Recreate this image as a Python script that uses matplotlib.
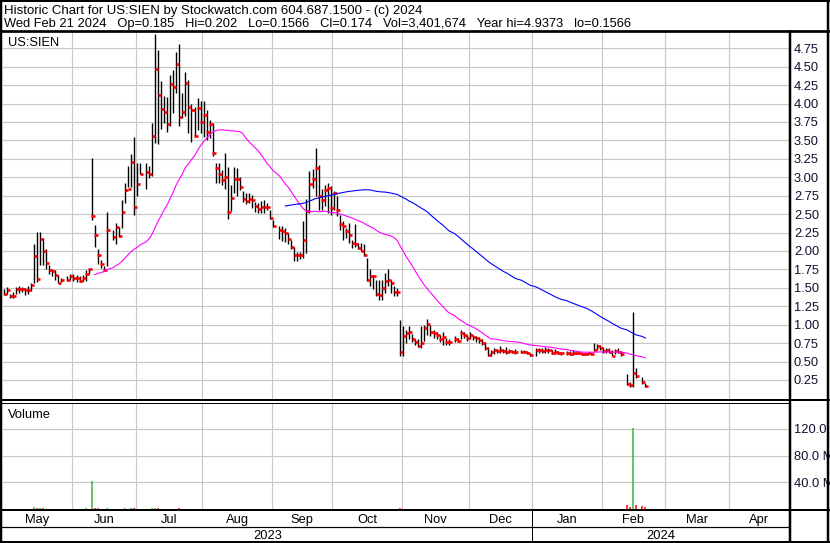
import numpy as np
import pandas as pd
import matplotlib
matplotlib.use("Agg")
import matplotlib.pyplot as plt
from matplotlib.lines import Line2D

plt.rcParams['font.family'] = ['Liberation Sans', 'DejaVu Sans']

W, H = 830, 543

# x axis = weekday slots, May 1 2023 .. end of Apr 2024
month_names = ["May", "Jun", "Jul", "Aug", "Sep", "Oct", "Nov", "Dec", "Jan", "Feb", "Mar", "Apr"]
month_start = [0, 23, 44, 66, 89, 109, 132, 154, 175, 198, 219, 240]
x_end = 259.9
year_names = ["2023", "2024"]
year_start = [0, 175]

# one value per weekday May 1 2023 .. Feb 21 2024, None = no trade
high_may = [1.49, 1.51, 1.42, 1.45, 1.51, 1.53, 1.51, 1.50, 1.53, 1.56, 2.10, 2.26, 2.26, 2.17, 2.03, 1.81, 1.76, 1.74, 1.67, 1.63, None, 1.66, 1.69]
low_may = [1.40, 1.42, 1.36, 1.36, 1.42, 1.43, 1.44, 1.40, 1.42, 1.46, 1.56, 1.58, 1.81, 1.81, 1.76, 1.69, 1.66, 1.60, 1.56, 1.58, None, 1.59, 1.60]
close_may = [1.42, 1.47, 1.39, 1.39, 1.48, 1.48, 1.48, 1.47, 1.47, 1.54, 1.93, 1.62, 2.16, 2.00, 1.84, 1.74, 1.73, 1.67, 1.57, 1.60, None, 1.60, 1.66]

high_jun = [1.69, 1.68, 1.66, 1.68, 1.74, 1.76, 3.26, 2.35, 2.03, 1.88, 1.80, 2.53, None, 2.29, 2.38, 2.33, 2.69, 2.92, 3.15, 3.32, 3.55, 3.19]
low_jun = [1.59, 1.58, 1.58, 1.59, 1.59, 1.69, 2.42, 2.06, 1.83, 1.77, 1.73, 1.79, None, 2.15, 2.10, 2.19, 2.31, 2.65, 2.87, 2.87, 2.49, 2.75]
close_jun = [1.64, 1.63, 1.59, 1.63, 1.69, 1.75, 2.48, 2.21, 1.94, 1.82, 1.74, 2.28, None, 2.19, 2.32, 2.20, 2.53, 2.83, 2.84, 3.21, 2.60, 2.91]

high_jul = [3.20, None, 3.19, 3.15, 3.74, 4.94, 4.72, 4.30, 4.10, 4.09, 4.39, 4.46, 4.70, 4.81, 4.14, 4.43, 4.32, 3.99, 3.96, 4.07, 4.03]
low_jul = [3.04, None, 2.84, 2.99, 3.02, 3.46, 3.45, 3.65, 3.74, 3.62, 3.69, 3.87, 4.14, 3.69, 3.81, 3.83, 3.60, 3.48, 3.56, 3.64, 3.60]
close_jul = [3.04, None, 3.07, 3.05, 3.56, 4.47, 4.11, 3.93, 3.88, 3.72, 4.27, 4.23, 4.54, 3.82, 3.89, 4.28, 3.96, 3.91, 3.56, 3.94, 3.75]

high_aug = [4.04, 3.91, 3.78, 3.73, 3.20, 3.20, 3.10, 3.33, 3.14, 2.90, 3.14, 3.12, 3.01, 2.81, 2.78, 2.78, 2.76, 2.67, 2.65, 2.68, 2.69, 2.65, 2.56]
low_aug = [3.55, 3.51, 3.53, 3.29, 2.92, 2.92, 2.90, 2.84, 2.43, 2.54, 2.78, 2.74, 2.83, 2.67, 2.64, 2.65, 2.58, 2.53, 2.51, 2.52, 2.51, 2.56, 2.44]
close_aug = [3.85, 3.62, 3.72, 3.33, 3.13, 3.04, 2.96, 3.01, 2.53, 2.72, 2.98, 2.98, 2.87, 2.70, 2.68, 2.70, 2.69, 2.61, 2.57, 2.59, 2.60, 2.60, 2.45]

high_sep = [2.42, None, 2.34, 2.34, 2.31, 2.24, 2.15, 2.05, 1.99, 1.99, 2.40, 2.70, 3.08, 3.11, 3.40, 3.17, 2.84, 2.90, 2.92, 2.88, 2.81]
low_sep = [2.33, None, 2.16, 2.13, 2.12, 2.09, 2.02, 1.87, 1.87, 1.89, 1.90, 1.97, 2.52, 2.86, 2.74, 2.56, 2.56, 2.61, 2.52, 2.49, 2.56]
close_sep = [2.34, None, 2.29, 2.27, 2.25, 2.16, 2.06, 1.94, 1.94, 1.95, 2.15, 2.54, 2.91, 2.98, 3.12, 2.74, 2.69, 2.83, 2.85, 2.58, 2.78]

high_oct = [2.74, 2.49, 2.40, 2.31, 2.38, 2.15, 2.37, 2.11, 2.11, 2.09, 1.91, 1.75, 1.68, 1.61, 1.61, 1.61, 1.70, 1.75, 1.61, 1.52, 1.50, 1.07]
low_oct = [2.47, 2.29, 2.15, 2.18, 2.11, 2.04, 2.06, 2.02, 2.00, 1.93, 1.59, 1.52, 1.48, 1.39, 1.34, 1.34, 1.43, 1.52, 1.43, 1.39, 1.39, 0.57]
close_oct = [2.55, 2.36, 2.34, 2.27, 2.21, 2.11, 2.10, 2.04, 2.00, 1.95, 1.60, 1.66, 1.66, 1.41, 1.40, 1.50, 1.59, 1.60, 1.56, 1.44, 1.45, 0.63]

high_nov = [0.98, 0.93, 0.98, 0.88, 0.80, 0.81, 0.98, 1.00, 1.08, 0.99, 0.93, 0.90, 0.86, 0.90, 0.82, 0.80, None, 0.84, 0.82, 0.93, 0.90, 0.86]
low_nov = [0.57, 0.75, 0.80, 0.76, 0.72, 0.70, 0.69, 0.78, 0.86, 0.85, 0.82, 0.80, 0.77, 0.73, 0.73, 0.73, None, 0.76, 0.76, 0.80, 0.82, 0.78]
close_nov = [0.85, 0.89, 0.90, 0.80, 0.76, 0.71, 0.75, 0.96, 1.01, 0.90, 0.89, 0.86, 0.81, 0.83, 0.77, 0.76, None, 0.80, 0.78, 0.89, 0.86, 0.82]

high_dec = [0.90, 0.86, 0.85, 0.83, 0.80, 0.77, 0.70, 0.66, 0.69, 0.67, 0.71, 0.67, 0.70, 0.67, 0.66, 0.67, None, 0.66, 0.65, 0.64, 0.62]
low_dec = [0.80, 0.79, 0.77, 0.75, 0.72, 0.66, 0.57, 0.58, 0.60, 0.61, 0.62, 0.61, 0.60, 0.61, 0.61, 0.60, None, 0.61, 0.61, 0.60, 0.58]
close_dec = [0.86, 0.83, 0.82, 0.79, 0.75, 0.68, 0.59, 0.63, 0.66, 0.64, 0.65, 0.64, 0.63, 0.64, 0.63, 0.63, None, 0.63, 0.63, 0.61, 0.59]

high_jan = [None, 0.68, 0.69, 0.68, 0.70, 0.68, 0.66, 0.67, 0.64, 0.63, None, 0.64, 0.64, 0.65, 0.63, 0.63, 0.62, 0.62, 0.63, 0.62, 0.75, 0.74, 0.72]
low_jan = [None, 0.58, 0.62, 0.61, 0.62, 0.62, 0.60, 0.60, 0.60, 0.59, None, 0.59, 0.59, 0.59, 0.60, 0.60, 0.59, 0.59, 0.59, 0.59, 0.64, 0.66, 0.65]
close_jan = [None, 0.65, 0.66, 0.64, 0.65, 0.66, 0.62, 0.63, 0.62, 0.61, None, 0.61, 0.60, 0.62, 0.61, 0.61, 0.60, 0.60, 0.61, 0.60, 0.66, 0.71, 0.69]

high_feb = [0.70, 0.69, 0.68, 0.66, 0.67, 0.68, 0.64, None, 0.33, 0.22, 1.17, 0.41, None, 0.29, 0.202]
low_feb = [0.62, 0.62, 0.61, 0.57, 0.60, 0.61, 0.58, None, 0.18, 0.15, 0.16, 0.27, None, 0.19, 0.1566]
close_feb = [0.64, 0.65, 0.63, 0.58, 0.64, 0.63, 0.60, None, 0.20, 0.18, 0.34, 0.30, None, 0.22, 0.174]

# volume in millions of shares
vol_may = [0.3, 0.2, 0.3, 0.2, 0.2, 0.3, 0.2, 0.2, 0.3, 0.5, 2.4, 1.2, 0.9, 0.6, 0.5, 0.3, 0.3, 0.3, 0.4, 0.3, None, 0.2, 0.3]
vol_jun = [0.3, 0.2, 0.3, 0.2, 1.0, 0.4, 42.0, 1.6, 0.6, 0.4, 0.3, 1.4, None, 0.4, 0.3, 0.3, 0.5, 0.6, 0.5, 0.8, 1.5, 0.4]
vol_jul = [0.4, None, 0.3, 0.3, 0.6, 1.6, 0.8, 0.5, 0.4, 0.3, 0.5, 0.4, 0.5, 0.6, 0.3, 0.4, 0.3, 0.3, 0.3, 0.3, 0.2]
vol_aug = [0.3, 0.2, 0.2, 0.4, 0.3, 0.2, 0.2, 0.2, 0.4, 0.3, 0.2, 0.2, 0.2, 0.1, 0.1, 0.1, 0.1, 0.2, 0.1, 0.1, 0.1, 0.1, 0.2]
vol_sep = [0.2, None, 0.2, 0.1, 0.1, 0.2, 0.2, 0.2, 0.1, 0.1, 0.3, 0.4, 0.4, 0.3, 0.5, 0.4, 0.2, 0.2, 0.2, 0.2, 0.2]
vol_oct = [0.2, 0.2, 0.1, 0.1, 0.2, 0.1, 0.2, 0.1, 0.1, 0.1, 0.3, 0.2, 0.1, 0.2, 0.2, 0.2, 0.2, 0.1, 0.1, 0.1, 0.1, 1.6]
vol_nov = [0.5, 0.3, 0.3, 0.2, 0.2, 0.2, 0.3, 0.3, 0.3, 0.2, 0.2, 0.1, 0.1, 0.2, 0.1, 0.1, None, 0.1, 0.1, 0.2, 0.1, 0.1]
vol_dec = [0.2, 0.1, 0.1, 0.1, 0.1, 0.2, 0.3, 0.1, 0.1, 0.1, 0.1, 0.1, 0.1, 0.1, 0.1, 0.1, None, 0.1, 0.1, 0.1, 0.1]
vol_jan = [None, 0.2, 0.1, 0.1, 0.1, 0.1, 0.1, 0.1, 0.1, 0.1, None, 0.1, 0.1, 0.1, 0.1, 0.1, 0.1, 0.1, 0.1, 0.1, 0.4, 0.3, 0.2]
vol_feb = [0.2, 0.2, 0.1, 0.2, 0.2, 0.1, 0.1, None, 6.0, 2.5, 122.0, 6.0, None, 4.0, 3.4]

high = high_may + high_jun + high_jul + high_aug + high_sep + high_oct + high_nov + high_dec + high_jan + high_feb
low = low_may + low_jun + low_jul + low_aug + low_sep + low_oct + low_nov + low_dec + low_jan + low_feb
close = close_may + close_jun + close_jul + close_aug + close_sep + close_oct + close_nov + close_dec + close_jan + close_feb
volume = vol_may + vol_jun + vol_jul + vol_aug + vol_sep + vol_oct + vol_nov + vol_dec + vol_jan + vol_feb

header1 = "Historic Chart for US:SIEN by Stockwatch.com 604.687.1500 - (c) 2024"
header2 = ("Wed Feb 21 2024   Op=0.185   Hi=0.202   Lo=0.1566   Cl=0.174   "
           "Vol=3,401,674   Year hi=4.9373   lo=0.1566")
symbol = "US:SIEN"

df = pd.DataFrame({"high": high, "low": low, "close": close, "vol": volume}, dtype=float)
df["x"] = np.arange(len(df)) + 0.4
bars = df.dropna().copy()
bars["ma30"] = bars["close"].rolling(30).mean()
bars["ma90"] = bars["close"].rolling(90).mean()
bars["up"] = bars["close"].diff().fillna(1) >= 0

FS = 9.3
GRID = "#c8c8c8"

fig = plt.figure(figsize=(W / 100, H / 100), dpi=100)
ax_l, ax_w = 2.7 / W, (789 - 2.7) / W
ax = fig.add_axes([ax_l, 1 - 400 / H, ax_w, (400 - 32) / H])
axv = fig.add_axes([ax_l, 1 - 509.5 / H, ax_w, (509.5 - 403) / H])

for a in (ax, axv):
    a.set_xlim(0, x_end)
    for s in a.spines.values():
        s.set_visible(False)
    a.set_xticks(month_start[1:])
    a.tick_params(axis="x", length=0, labelbottom=False)
    a.yaxis.tick_right()
    a.tick_params(axis="y", length=0, pad=3.6, labelsize=FS, labelcolor="#101030")
    a.grid(True, color=GRID, lw=0.85)
    a.set_axisbelow(True)

# price panel
ax.set_ylim(-0.022, 4.971)
ax.set_yticks(np.arange(0.25, 4.76, 0.25))
ax.set_yticklabels([f"{v:.2f}" for v in np.arange(0.25, 4.76, 0.25)])
ax.vlines(bars["x"], bars["low"], bars["high"], color="black", lw=1.0, zorder=3)
ax.hlines(bars["close"], bars["x"] - 0.1, bars["x"] + 1.0, color="#ff0000", lw=1.9, zorder=4)
ax.plot(bars["x"], bars["ma30"], color="#ff00ff", lw=0.8, zorder=5)
ax.plot(bars["x"], bars["ma90"], color="#0000ff", lw=0.8, zorder=5)
ax.text(8 / W, 1 - 45.7 / H, symbol, transform=fig.transFigure, fontsize=FS, va="baseline")

# volume panel
axv.set_ylim(-1, 159)
axv.set_yticks([40, 80, 120])
axv.set_yticklabels(["40.0 M", "80.0 M", "120.0 M"])
vcol = np.where(bars["up"], "#3cb43c", "#ff0000")
axv.vlines(bars["x"], 0, bars["vol"], colors=vcol, lw=1.1, zorder=3)
fig.text(8 / W, 1 - 417.7 / H, "Volume", fontsize=FS, va="baseline")

# month and year labels under the volume panel
xt = axv.get_xaxis_transform()
bounds = month_start + [x_end]
for k, name in enumerate(month_names):
    axv.text((bounds[k] + bounds[k + 1]) / 2, (509.5 - 523) / 106.5, name, transform=xt,
             ha="center", va="baseline", fontsize=FS, clip_on=False)
ybounds = year_start + [x_end]
for k, name in enumerate(year_names):
    axv.text((ybounds[k] + ybounds[k + 1]) / 2, (509.5 - 539.3) / 106.5, name, transform=xt,
             ha="center", va="baseline", fontsize=FS, clip_on=False)

# header
fig.text(4 / W, 1 - 14 / H, header1, fontsize=9.5, va="baseline")
fig.text(4 / W, 1 - 27.3 / H, header2, fontsize=FS, va="baseline")


def line_px(xs, ys, lw_px):
    fig.add_artist(Line2D([x / W for x in xs], [1 - y / H for y in ys],
                          lw=lw_px * 0.72, color="black", solid_capstyle="butt"))


line_px([0, W], [1, 1], 2)
line_px([1.2, 1.2], [0, H], 2.5)
line_px([828, 828], [0, H], 2.5)
line_px([0, W], [542, 542], 2)
line_px([0, W], [30.7, 30.7], 2.7)
line_px([789.5, 789.5], [30, H], 2.5)
line_px([0, W], [400.2, 400.2], 2)
line_px([0, 789], [402.8, 402.8], 1)
line_px([0, W], [510.2, 510.2], 2)
line_px([0, 789], [527.3, 527.3], 1.2)
jan_x = 2.7 + (789 - 2.7) * year_start[1] / x_end
line_px([jan_x, jan_x], [510, 542], 1)

fig.savefig("out.png", dpi=100)
